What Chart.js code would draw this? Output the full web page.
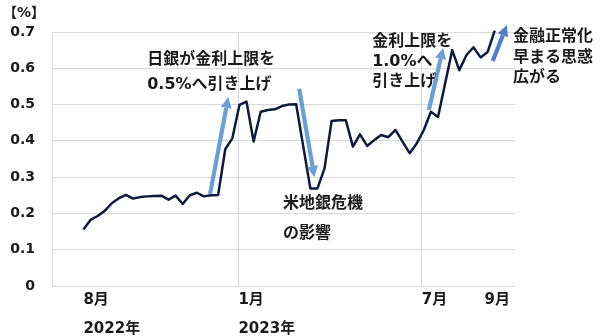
<!DOCTYPE html>
<html>
<head>
<meta charset="utf-8">
<script src="https://cdn.jsdelivr.net/npm/chart.js@4/dist/chart.umd.min.js"></script>
<style>
  html, body { margin: 0; padding: 0; background: #ffffff; }
  #wrap { width: 600px; height: 336px; }
</style>
</head>
<body>
<div id="wrap"><canvas id="c" width="600" height="336"></canvas></div>
<script>
// ---- data (weekly 10-year JGB yield, %) ----
const dates = [
  '2022-08-01','2022-08-08','2022-08-15','2022-08-22','2022-08-29','2022-09-05','2022-09-12','2022-09-19',
  '2022-09-26','2022-10-03','2022-10-10','2022-10-17','2022-10-24','2022-10-31','2022-11-07','2022-11-14',
  '2022-11-21','2022-11-28','2022-12-05','2022-12-12','2022-12-19','2022-12-26','2023-01-02','2023-01-09',
  '2023-01-16','2023-01-23','2023-01-30','2023-02-06','2023-02-13','2023-02-20','2023-02-27','2023-03-13',
  '2023-03-20','2023-03-27','2023-04-03','2023-04-10','2023-04-17','2023-04-24','2023-05-01','2023-05-08',
  '2023-05-15','2023-05-22','2023-05-29','2023-06-05','2023-06-12','2023-06-19','2023-06-26','2023-07-03',
  '2023-07-10','2023-07-17','2023-07-31','2023-08-07','2023-08-14','2023-08-21','2023-08-28','2023-09-04',
  '2023-09-11'
];
const yields = [
  0.156, 0.182, 0.193, 0.207, 0.228, 0.242, 0.251, 0.241,
  0.245, 0.247, 0.248, 0.249, 0.238, 0.249, 0.226, 0.250,
  0.257, 0.247, 0.250, 0.251, 0.377, 0.407, 0.499, 0.508,
  0.398, 0.480, 0.485, 0.487, 0.496, 0.500, 0.501, 0.269,
  0.269, 0.324, 0.455, 0.457, 0.457, 0.384, 0.418, 0.386,
  0.402, 0.416, 0.410, 0.430, 0.398, 0.366, 0.393, 0.430,
  0.480, 0.466, 0.650, 0.595, 0.636, 0.658, 0.630, 0.645,
  0.704
];

// ---- axes ----
const axisStart = '2022-07-01';
const axisEnd = '2023-10-01';
const gridDates = ['2022-07-01', '2023-01-01', '2023-07-01'];
const monthLabelDates = ['2022-08-01', '2023-01-01', '2023-07-01', '2023-09-01'];
const monthLabels = [['8月', '2022年'], ['1月', '2023年'], ['7月'], ['9月']];
const yMin = 0, yMax = 0.7, yStep = 0.1;
const unitLabel = '【%】';

// ---- annotations (in data coordinates) ----
const arrowFrom = [['2022-12-04', 0.253], ['2023-03-02', 0.543], ['2023-07-08', 0.485], ['2023-09-09', 0.620]];
const arrowTo   = [['2022-12-22', 0.521], ['2023-03-17', 0.300], ['2023-07-22', 0.656], ['2023-09-23', 0.719]];
const noteAnchors = [['2022-10-03', 0.623], ['2023-02-14', 0.226], ['2023-05-13', 0.674], ['2023-09-29', 0.686]];
const noteLines = [
  ['日銀が金利上限を', '0.5%へ引き上げ'],
  ['米地銀危機', 'の影響'],
  ['金利上限を', '1.0%へ', '引き上げ'],
  ['金融正常化', '早まる思惑', '広がる']
];

// ---- helpers / styles ----
const FONT = '"DejaVu Sans", "Noto Sans CJK JP", sans-serif';
const TEXT = '#1a1a1a';
const GRID = '#d9d9d9';
const LINE = '#0d1a3c';
const noteGap = [25, 29.5, 20, 20.3];
const arrowColor = ['#6a9fd6', '#6a9fd6', '#6a9fd6', '#4f7fc6'];

function day(s) {
  return (Date.parse(s + 'T00:00:00Z') - Date.parse(axisStart + 'T00:00:00Z')) / 86400000;
}
const points = dates.map((d, i) => ({ x: day(d), y: yields[i] }));

function drawArrow(ctx, x1, y1, x2, y2, color) {
  const ang = Math.atan2(y2 - y1, x2 - x1);
  const headLen = 11, headHalf = 5.5, shaft = 4.2;
  const bx = x2 - Math.cos(ang) * headLen, by = y2 - Math.sin(ang) * headLen;
  ctx.save();
  ctx.strokeStyle = color;
  ctx.fillStyle = color;
  ctx.lineWidth = shaft;
  ctx.lineCap = 'butt';
  ctx.beginPath();
  ctx.moveTo(x1, y1);
  ctx.lineTo(bx, by);
  ctx.stroke();
  ctx.beginPath();
  ctx.moveTo(x2, y2);
  ctx.lineTo(bx + Math.sin(ang) * headHalf, by - Math.cos(ang) * headHalf);
  ctx.lineTo(bx - Math.sin(ang) * headHalf, by + Math.cos(ang) * headHalf);
  ctx.closePath();
  ctx.fill();
  ctx.restore();
}

const annotate = {
  id: 'annotate',
  afterDatasetsDraw(chart) {
    const ctx = chart.ctx;
    const xs = chart.scales.x, ys = chart.scales.y;
    arrowFrom.forEach((f, i) => {
      const t = arrowTo[i];
      drawArrow(ctx,
        xs.getPixelForValue(day(f[0])), ys.getPixelForValue(f[1]),
        xs.getPixelForValue(day(t[0])), ys.getPixelForValue(t[1]),
        arrowColor[i]);
    });
    ctx.save();
    ctx.fillStyle = TEXT;
    ctx.font = 'bold 16px ' + FONT;
    ctx.textAlign = 'left';
    ctx.textBaseline = 'middle';
    noteAnchors.forEach((a, i) => {
      const x = xs.getPixelForValue(day(a[0]));
      const y = ys.getPixelForValue(a[1]);
      noteLines[i].forEach((ln, j) => ctx.fillText(ln, x, y + j * noteGap[i]));
    });
    ctx.font = 'bold 14px ' + FONT;
    ctx.fillText(unitLabel, 3, 13);
    ctx.restore();
  }
};

new Chart(document.getElementById('c'), {
  type: 'line',
  data: {
    datasets: [{
      data: points,
      borderColor: LINE,
      borderWidth: 2.5,
      pointRadius: 0,
      tension: 0,
      clip: false,
      borderJoinStyle: 'round'
    }]
  },
  options: {
    responsive: false,
    animation: false,
    events: [],
    layout: { padding: { top: 32, right: 85, bottom: 0, left: 0 } },
    plugins: { legend: { display: false }, tooltip: { enabled: false } },
    scales: {
      x: {
        type: 'linear',
        position: 'bottom',
        min: day(axisStart),
        max: day(axisEnd),
        afterBuildTicks: s => { s.ticks = gridDates.map(d => ({ value: day(d) })); },
        ticks: { display: false },
        grid: { color: GRID, lineWidth: 1, drawTicks: false },
        border: { display: false },
        afterFit: s => { s.height = 0; }
      },
      xl: {
        type: 'linear',
        axis: 'x',
        position: 'bottom',
        min: day(axisStart),
        max: day(axisEnd),
        afterBuildTicks: s => { s.ticks = monthLabelDates.map(d => ({ value: day(d) })); },
        ticks: {
          autoSkip: false,
          maxRotation: 0,
          align: 'start',
          padding: 0,
          color: TEXT,
          font: { family: FONT, size: 15, weight: 'bold', lineHeight: 29 / 15 },
          callback: (v, i) => monthLabels[i]
        },
        grid: { display: false, drawTicks: false },
        border: { display: false },
        afterFit: s => { s.height = 50; }
      },
      y: {
        min: yMin,
        max: yMax,
        ticks: {
          stepSize: yStep,
          padding: 17,
          color: TEXT,
          font: { family: FONT, size: 14, weight: 'bold' },
          callback: v => (Math.abs(v) < 1e-9 ? '0' : v.toFixed(1))
        },
        grid: { color: GRID, lineWidth: 1, drawTicks: false },
        border: { display: false },
        afterFit: s => { s.width = 52; }
      }
    }
  },
  plugins: [annotate]
});
</script>
</body>
</html>
